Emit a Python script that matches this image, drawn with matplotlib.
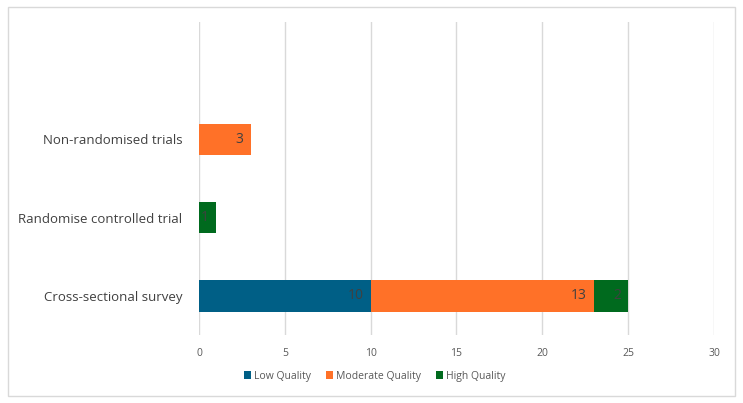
import matplotlib
matplotlib.use("Agg")
import matplotlib.pyplot as plt
from matplotlib.patches import Rectangle

categories = ["Cross-sectional survey", "Randomise controlled trial", "Non-randomised trials"]
series_names = ["Low Quality", "Moderate Quality", "High Quality"]
low = [10, 0, 0]
moderate = [13, 0, 3]
high = [2, 1, 0]
xticks = [0, 5, 10, 15, 20, 25, 30]
colors = ["#005F86", "#FF7128", "#006A1E"]

plt.rcParams['font.family'] = ['Open Sans', 'DejaVu Sans']

fig = plt.figure(figsize=(7.43, 4.03), dpi=100)
fig.patches.append(Rectangle((8/743, 7/403), 727/743, 389/403, transform=fig.transFigure,
                             fill=False, edgecolor="#D9D9D9", linewidth=1))
ax = fig.add_axes([199/743, 1 - 335/403, 515/743, 313/403])

ypos = list(range(len(categories)))
left = [0]*len(categories)
for name, vals, c in zip(series_names, [low, moderate, high], colors):
    ax.barh(ypos, vals, left=left, height=0.4, color=c, label=name, zorder=3)
    for y, v, l in zip(ypos, vals, left):
        if v > 0:
            ax.annotate(str(v), (l + v, y), xytext=(-7, 0), textcoords='offset pixels',
                        ha='right', va='center', fontsize=10, color="#404040", zorder=4)
    left = [a + b for a, b in zip(left, vals)]

ax.set_xlim(0, 30)
ax.set_ylim(-0.5, 3.5)
ax.set_xticks(xticks)
ax.set_yticks(ypos)
ax.set_yticklabels(categories, fontsize=9.5, color="#404040")
ax.tick_params(axis='x', labelsize=7.5, colors="#595959", length=0, pad=9)
ax.tick_params(axis='y', length=0, pad=12)
ax.grid(axis='x', color="#D9D9D9", linewidth=1, zorder=0)
for s in ax.spines.values():
    s.set_visible(False)

fig.legend(loc='center', bbox_to_anchor=(375/743, 1 - 376/403), ncol=3, frameon=False,
           fontsize=7.5, handlelength=0.7, handleheight=0.7, handletextpad=0.3,
           columnspacing=1.4, labelcolor="#595959")

fig.savefig("out.png", dpi=100)
